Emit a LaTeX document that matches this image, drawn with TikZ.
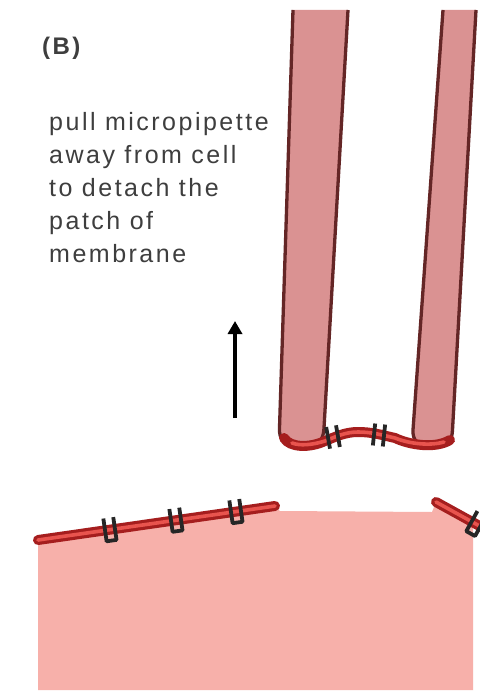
\documentclass[tikz,border=0pt]{standalone}
\usepackage{fontspec}
\setmainfont{Liberation Sans}
\usetikzlibrary{arrows.meta}

\definecolor{pipefill}{RGB}{218,146,146}
\definecolor{pipeedge}{RGB}{100,38,38}
\definecolor{cellfill}{RGB}{247,176,170}
\definecolor{memdark}{RGB}{165,30,30}
\definecolor{memlight}{RGB}{232,84,78}
\definecolor{inkgray}{RGB}{62,62,62}

\tikzset{
  pipewall/.style={fill=pipefill, draw=pipeedge, line width=3.3pt, line join=round},
  membrane/.style={memdark, line width=10pt, line cap=round},
  membranecore/.style={memlight, line width=3.6pt, line cap=round},
  chanbar/.style={black!85, line width=3.8pt},
  caption/.style={text=inkgray, align=left, inner sep=0pt,
    font=\fontsize{25}{33}\selectfont\addfontfeature{LetterSpace=10}},
  tagtext/.style={text=inkgray, inner sep=0pt,
    font=\fontsize{24}{28}\selectfont\bfseries\addfontfeature{LetterSpace=10}},
  % ion channel in the cell membrane: U-shaped protein
  cellchannel/.pic={\draw[chanbar, line join=round] (-5,-12) -- (-5,11) -- (5,11) -- (5,-12);},
  % ion channel in the excised patch: two subunits
  patchchannel/.pic={\draw[chanbar] (-5,-11) -- (-5,11); \draw[chanbar] (5,-11) -- (5,11);}
}

\begin{document}
\begin{tikzpicture}[x=1pt, y=-1pt]
\useasboundingbox (0,0) rectangle (479,693);
\fill[white] (0,0) rectangle (479,693);

% cell body
\fill[cellfill] (38,540) -- (275,506) -- (280,511) -- (432,512) -- (436,502)
  -- (473,523) -- (473,690) -- (38,690) -- cycle;

% cell membrane left of the torn region
\draw[membrane] (38,540) -- (275,506);
\draw[membranecore] (38,540) -- (275,506);
\pic[rotate=8.2] (ch1) at (110,529.7) {cellchannel};
\pic[rotate=8.2] (ch2) at (176,520.2) {cellchannel};
\pic[rotate=8.2] (ch3) at (236,511.6) {cellchannel};

% cell membrane right of the torn region
\draw[membrane] (436,502) -- (485,529);
\draw[membranecore] (436,502) -- (485,529);
\pic[rotate=-29] (ch4) at (476,524) {cellchannel};

% micropipette walls
\draw[pipewall] (293,10) -- (279.5,428) .. controls (279,440) and (284,444) .. (295,444)
  -- (312,444) .. controls (320,444) and (323.5,438) .. (324,428) -- (348,10);
\draw[pipewall] (443,10) -- (413,430) .. controls (412.5,441) and (418,445) .. (428,445)
  -- (440,445) .. controls (449,445) and (452,440) .. (452.5,430) -- (476,10);

% detached membrane patch sealed across the tip
\draw[membrane] (284,438) .. controls (290,448) and (310,448) .. (325,441)
  .. controls (335,437) and (345,432) .. (358,432)
  .. controls (372,432) and (382,435) .. (395,438)
  .. controls (410,445) and (435,449) .. (450,440);
\draw[membranecore] (292,443) .. controls (300,446) and (312,445) .. (325,441)
  .. controls (335,437) and (345,432) .. (358,432)
  .. controls (372,432) and (382,435) .. (395,438)
  .. controls (410,444) and (430,446) .. (444,442);
\pic[rotate=10] (pc1) at (333,437) {patchchannel};
\pic[rotate=-6] (pc2) at (379,435) {patchchannel};

% pulling direction
\coordinate (pulltail) at (235,418);
\coordinate (pulltip) at (235,321);
\draw[black, line width=4pt, -{Triangle[width=14pt,length=13pt]}] (pulltail) -- (pulltip);

% labels
\node[tagtext, anchor=north west] (tag) at (42,37) {(B)};
\node[caption, anchor=north west] (note) at (49,112)
  {pull micropipette\\away from cell\\to detach the\\patch of\\membrane};
\end{tikzpicture}
\end{document}
